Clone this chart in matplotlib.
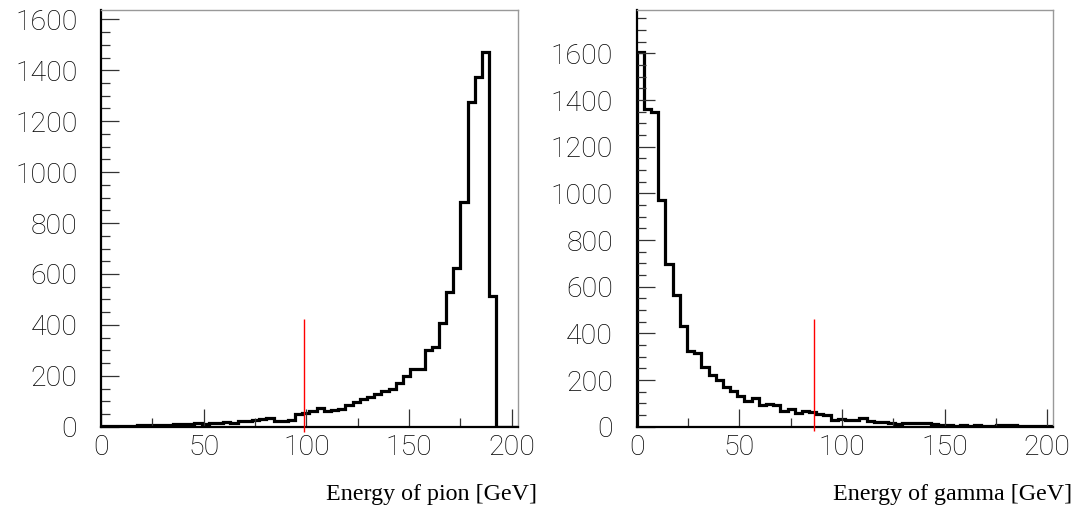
"""
Energy spectra of pion and gamma, ROOT-style step histograms.
"""
import numpy as np
import matplotlib.pyplot as plt
from matplotlib.ticker import MultipleLocator

# 58 bins of 3.5 GeV from 0 to 203 GeV
bin_width = 3.5
n_bins = 58
edges = np.arange(n_bins + 1) * bin_width

pion_counts = [2, 2, 3, 3, 4, 6, 5, 6, 7, 8, 9, 10, 11, 13, 12, 14, 13, 18, 16, 22,
               22, 28, 31, 33, 24, 22, 28, 48, 52, 60, 72, 62, 64, 68, 85, 98, 107, 118, 128, 140,
               150, 173, 199, 225, 228, 301, 314, 409, 528, 622, 881, 1277, 1375, 1473, 513, 0, 0, 0]

gamma_counts = [1607, 1362, 1348, 972, 697, 563, 431, 326, 314, 254, 221, 198, 172, 155, 130, 112,
                123, 95, 98, 91, 66, 74, 58, 67, 62, 54, 48, 30, 32, 28, 27, 39, 23, 21, 20, 16,
                13, 14, 17, 16, 16, 11, 9, 6, 5, 6, 5, 6, 4, 5, 6, 8, 7, 4, 4, 3, 3, 2]

# red marker lines: x position, top value
pion_cut = (98.7, 422)
gamma_cut = (86.4, 460)

x_labels = ['Energy of pion [GeV]', 'Energy of gamma [GeV]']
y_limits = [1637, 1786]

tick_font = dict(family=['Roboto', 'DejaVu Sans'], size=20.5, weight='light')

fig = plt.figure(figsize=(10.88, 5.07), dpi=100)
ax1 = fig.add_axes([0.0928, 0.1584, 0.3833, 0.8219])
ax2 = fig.add_axes([0.5852, 0.1584, 0.3829, 0.8219])

panels = [(ax1, pion_counts, pion_cut), (ax2, gamma_counts, gamma_cut)]
for i, (ax, counts, cut) in enumerate(panels):
    ax.stairs(counts, edges, color='black', linewidth=2.3, baseline=0)
    ax.plot([cut[0], cut[0]], [-20, cut[1]], color='#ff0000', linewidth=1.0,
            clip_on=False, zorder=3, solid_capstyle='butt')

    ax.set_xlim(0, edges[-1])
    ax.set_ylim(0, y_limits[i])

    ax.xaxis.set_major_locator(MultipleLocator(50))
    ax.xaxis.set_minor_locator(MultipleLocator(25))
    ax.yaxis.set_major_locator(MultipleLocator(200))
    ax.yaxis.set_minor_locator(MultipleLocator(50))
    ax.tick_params(which='both', direction='in', top=False, right=False, color='#333333', width=0.9)
    ax.tick_params(which='major', length=13)
    ax.tick_params(which='minor', length=6.5)
    ax.tick_params(axis='x', which='major', pad=5)
    ax.tick_params(axis='y', which='major', pad=17)

    for lab in ax.get_xticklabels() + ax.get_yticklabels():
        lab.set_fontfamily(tick_font['family'])
        lab.set_fontsize(tick_font['size'])
        lab.set_fontweight(tick_font['weight'])

    ax.spines['left'].set_linewidth(1.6)
    ax.spines['bottom'].set_linewidth(1.6)
    ax.spines['top'].set_color('#999999')
    ax.spines['right'].set_color('#999999')
    ax.spines['top'].set_linewidth(1.0)
    ax.spines['right'].set_linewidth(1.0)

    ax.text(1.045, -0.175, x_labels[i], transform=ax.transAxes, ha='right', va='baseline',
            family='Liberation Serif', fontsize=17.3)

plt.savefig('out.png', dpi=100)
